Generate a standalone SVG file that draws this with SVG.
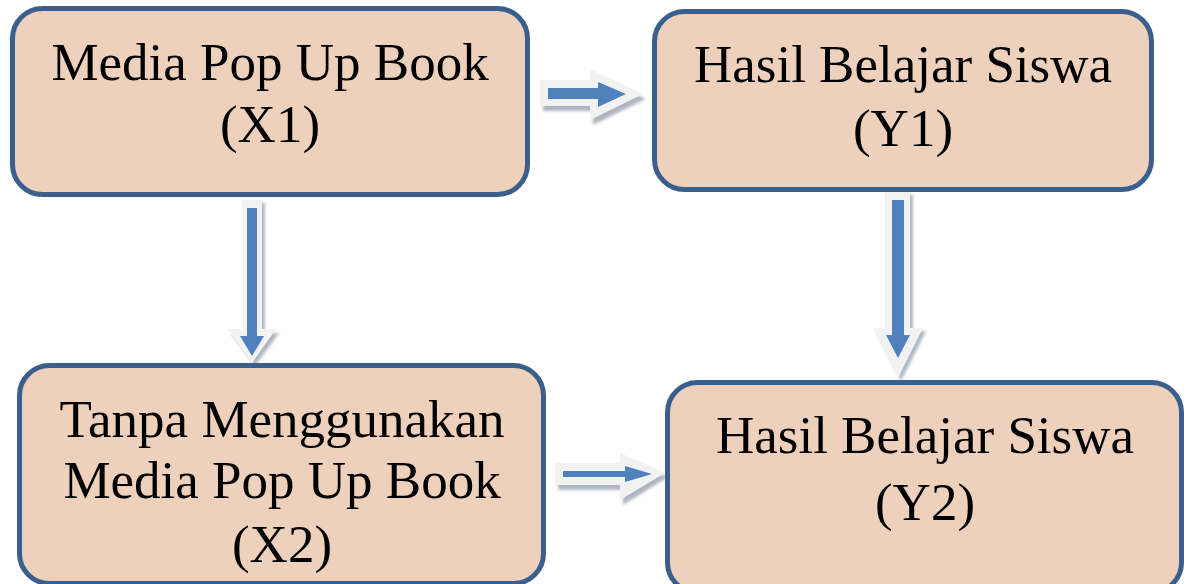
<svg xmlns="http://www.w3.org/2000/svg" width="1194" height="584" viewBox="0 0 1194 584">
<style>
.box{fill:#eed1bc;stroke:#3b5f8c;stroke-width:5}
.t{font-family:"Liberation Serif","Times New Roman",serif;font-size:53px;fill:#000;text-anchor:middle}
.outer{fill:#f2f2f2}
.inner{fill:#4f81bd}
.shadow{fill:#8d97a8;opacity:0.7;filter:url(#blur)}
</style>
<defs>
<filter id="blur" x="-20%" y="-20%" width="140%" height="140%"><feGaussianBlur stdDeviation="1.5"/></filter>
</defs>
<rect width="1194" height="584" fill="#fff"/>
<g id="connectors">
  <g id="a1">
    <path class="shadow" d="M543,85 H593 V74 L646,99 L593,125 V111 H543 Z"/>
    <path class="outer" d="M540,80 H590 V69 L643,94 L590,120 V106 H540 Z"/>
    <path class="inner" d="M548,88 H598 V82 L626,94 L598,107 V99 H548 Z"/>
  </g>
  <g id="a2">
    <path class="shadow" d="M245,203 H265 V333 H279 L255,366 L231,333 H245 Z"/>
    <path class="outer" d="M242,200 H262 V329 H276 L252,363 L228,329 H242 Z"/>
    <path class="inner" d="M247,208 H257 V336 H264 L252,356 L240,336 H247 Z"/>
  </g>
  <g id="a3">
    <path class="shadow" d="M888,195 H913 V331 H926 L901,381 L876,331 H888 Z"/>
    <path class="outer" d="M885,192 H910 V328 H923 L898,378 L873,328 H885 Z"/>
    <path class="inner" d="M892,200 H904 V335 H910 L898,358 L886,335 H892 Z"/>
  </g>
  <g id="a4">
    <path class="shadow" d="M558,468 H623 V458 L668,477 L623,505 V490 H558 Z"/>
    <path class="outer" d="M555,463 H620 V453 L665,473 L620,500 V485 H555 Z"/>
    <path class="inner" d="M563,471 H625 V466 L652,474 L625,482 V477 H563 Z"/>
  </g>
</g>
<g id="x1">
  <rect class="box" x="12.5" y="8.5" width="515" height="186" rx="30"/>
  <text class="t" x="270" y="80">Media Pop Up Book</text>
  <text class="t" x="270" y="142">(X1)</text>
</g>
<g id="y1">
  <rect class="box" x="654.5" y="11.5" width="497" height="178" rx="30"/>
  <text class="t" x="903" y="82">Hasil Belajar Siswa</text>
  <text class="t" x="903" y="146">(Y1)</text>
</g>
<g id="x2">
  <rect class="box" x="19.5" y="365.5" width="524" height="218" rx="30"/>
  <text class="t" x="282" y="437">Tanpa Menggunakan</text>
  <text class="t" x="282" y="498">Media Pop Up Book</text>
  <text class="t" x="282" y="562">(X2)</text>
</g>
<g id="y2">
  <rect class="box" x="667.5" y="382.5" width="514" height="210" rx="30"/>
  <text class="t" x="925" y="453">Hasil Belajar Siswa</text>
  <text class="t" x="925" y="520">(Y2)</text>
</g>
</svg>
